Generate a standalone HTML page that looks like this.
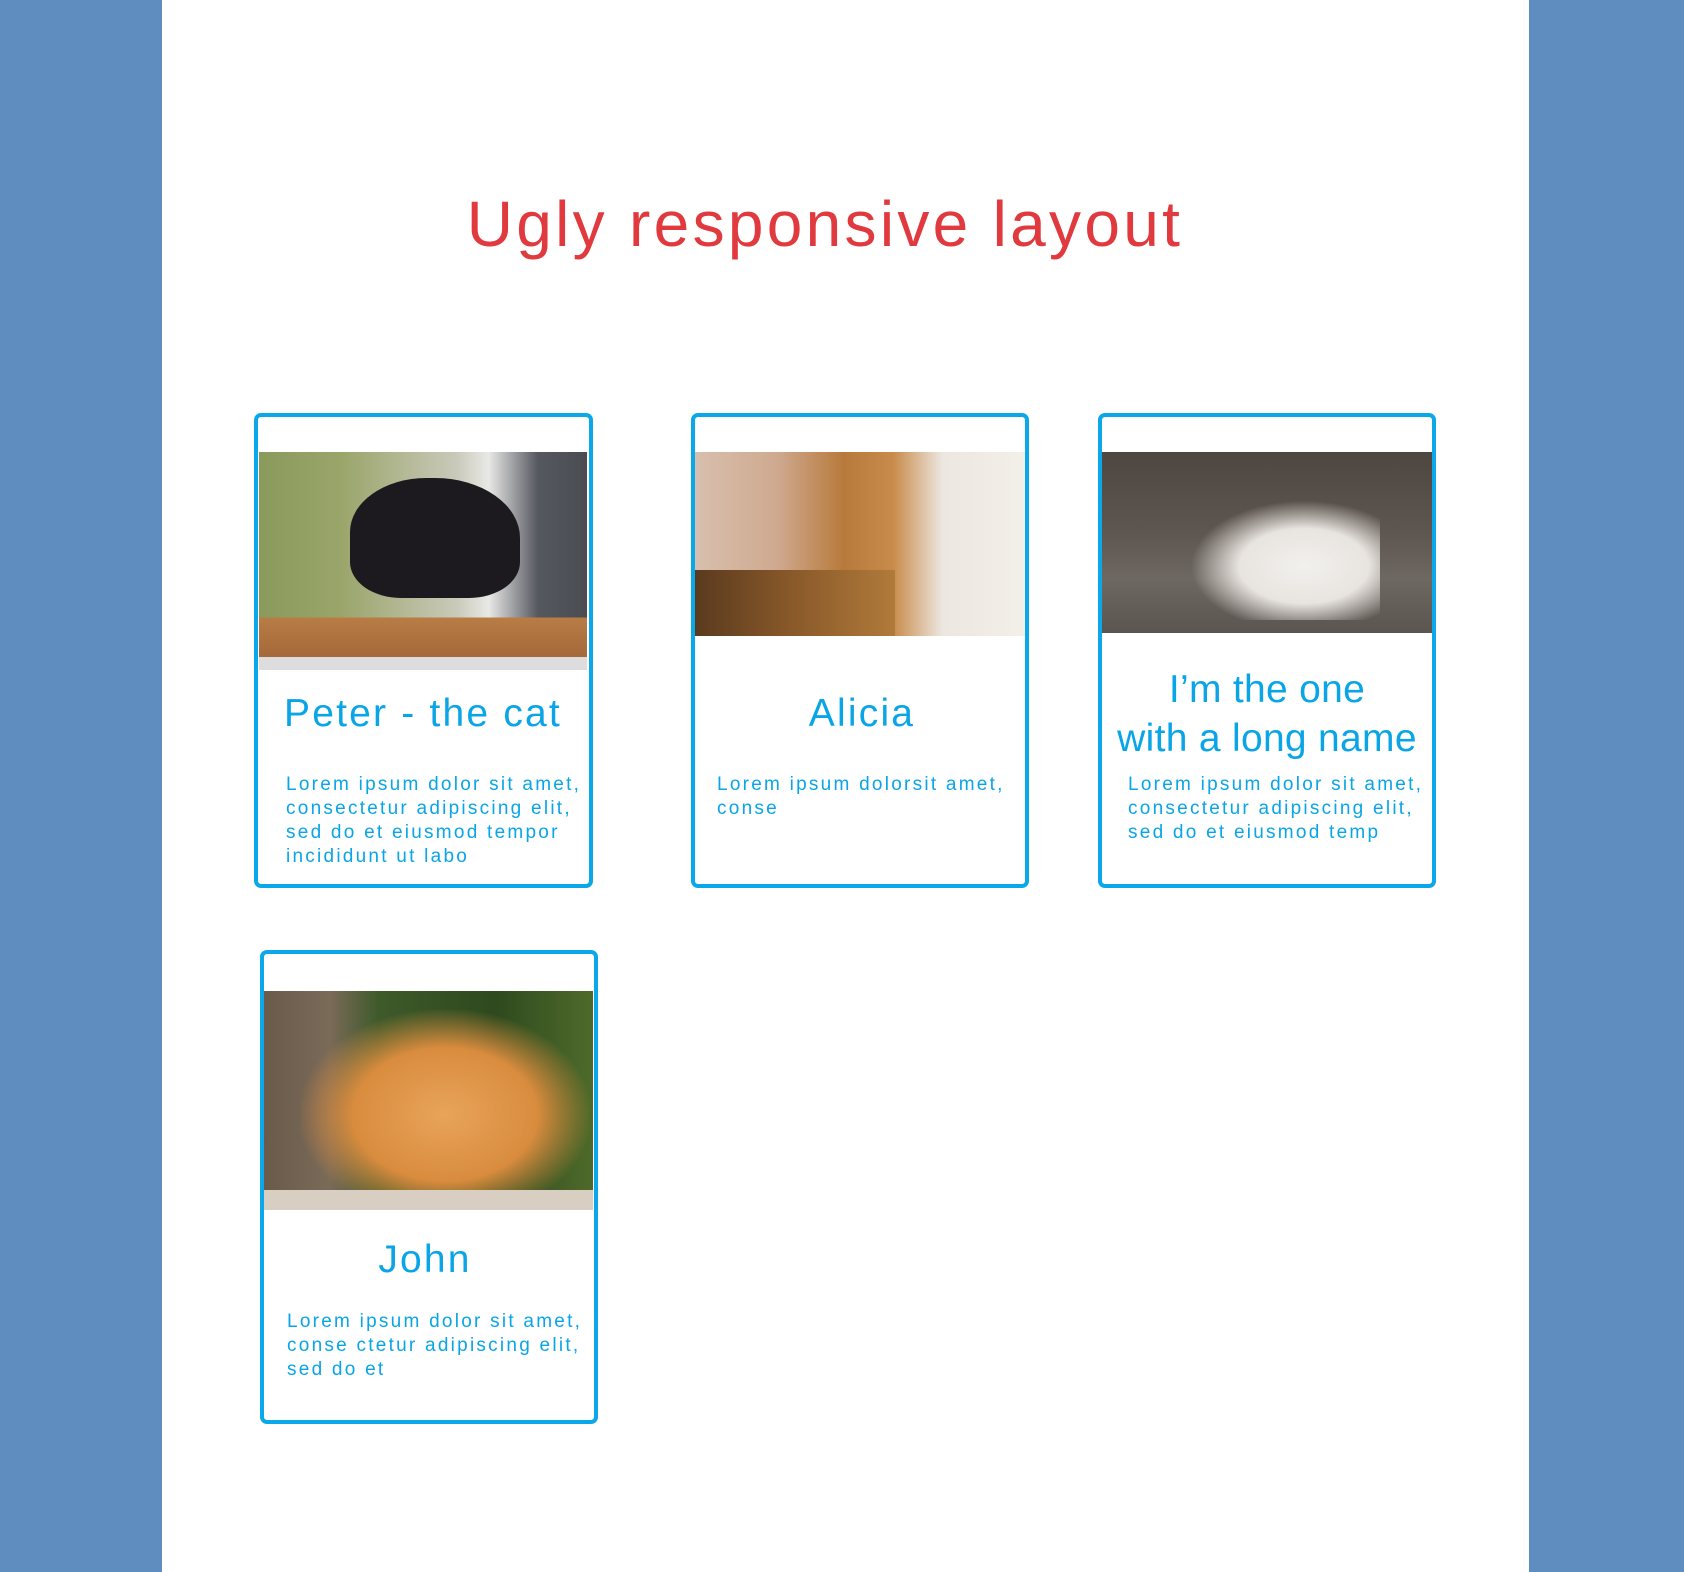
<!DOCTYPE html>
<html><head><meta charset="utf-8"><style>
*{margin:0;padding:0;box-sizing:border-box}
body{width:1684px;height:1572px;background:#5f8dbf;position:relative;overflow:hidden;font-family:"Liberation Sans",Arial,sans-serif}
.page{position:absolute;left:162px;top:0;width:1367px;height:1572px;background:#fff}
.t{position:absolute;white-space:nowrap}
.title{left:0;width:1650px;text-align:center;top:187px;font-size:64px;color:#e0393e;letter-spacing:3.3px}
.card{position:absolute;border:4px solid #0aa8e8;border-radius:7px;background:#fff}
.img{position:absolute}
.h{color:#0aa5e6;font-size:39px;line-height:49px}
.p{color:#0aa5e6;font-size:19px;line-height:24px;letter-spacing:2.25px}
</style></head><body>
<div class="page"></div>
<div class="t title">Ugly responsive layout</div>

<div class="card" style="left:254px;top:413px;width:339px;height:475px"></div>
<div class="img" style="left:259px;top:452px;width:328px;height:218px;background:linear-gradient(180deg,rgba(0,0,0,0) 0,rgba(0,0,0,0) 76%,#b87c45 76%,#a5693a 94%,#ddd 94%),linear-gradient(90deg,#8a9a5c 0,#9aa56a 25%,#c9c9b9 60%,#e8e8e6 70%,#565860 85%,#4a4c52 100%)"></div>
<div class="img" style="left:350px;top:478px;width:170px;height:120px;background:#1c1a1e;border-radius:45% 50% 30% 30%"></div>
<div class="t h" style="left:284px;top:689px;letter-spacing:2.2px">Peter - the cat</div>
<div class="t p" style="left:286px;top:773px">Lorem ipsum dolor sit amet,<br>consectetur adipiscing elit,<br>sed do et eiusmod tempor<br>incididunt ut labo</div>

<div class="card" style="left:691px;top:413px;width:338px;height:475px"></div>
<div class="img" style="left:695px;top:452px;width:330px;height:184px;background:linear-gradient(90deg,#d8bfae 0,#cfa98f 25%,#b87a3c 45%,#c88b4a 60%,#ece7e0 75%,#f3efe9 100%)"></div>
<div class="img" style="left:695px;top:570px;width:200px;height:66px;background:linear-gradient(90deg,#5a3a1e,#8a5a2a,#b07a3a)"></div>
<div class="t h" style="left:693px;width:338px;text-align:center;top:689px;letter-spacing:2.2px">Alicia</div>
<div class="t p" style="left:717px;top:773px">Lorem ipsum dolorsit amet,<br>conse</div>

<div class="card" style="left:1098px;top:413px;width:338px;height:475px"></div>
<div class="img" style="left:1102px;top:452px;width:330px;height:181px;background:linear-gradient(180deg,#4e4640 0,#5e5650 45%,#6e6862 70%,#5a5550 100%)"></div>
<div class="img" style="left:1190px;top:500px;width:190px;height:120px;background:radial-gradient(ellipse at 60% 55%,#f2f0ee 0,#e8e4df 40%,rgba(200,190,180,0) 70%)"></div>
<div class="t h" style="left:1098px;width:338px;text-align:center;top:665px;letter-spacing:0.3px">I’m the one<br>with a long name</div>
<div class="t p" style="left:1128px;top:773px">Lorem ipsum dolor sit amet,<br>consectetur adipiscing elit,<br>sed do et eiusmod temp</div>

<div class="card" style="left:260px;top:950px;width:338px;height:474px"></div>
<div class="img" style="left:264px;top:991px;width:329px;height:219px;background:linear-gradient(90deg,#6a5a4a 0,#7a6a58 20%,#3e5a2a 35%,#2e4a1e 70%,#4e6a2a 100%)"></div>
<div class="img" style="left:300px;top:1010px;width:290px;height:190px;background:radial-gradient(ellipse at 50% 55%,#e8a45a 0,#d98c3e 45%,rgba(217,140,62,0) 72%)"></div>
<div class="img" style="left:264px;top:1190px;width:329px;height:20px;background:#d8cfc2"></div>
<div class="t h" style="left:256px;width:338px;text-align:center;top:1235px;letter-spacing:2.2px">John</div>
<div class="t p" style="left:287px;top:1310px">Lorem ipsum dolor sit amet,<br>conse ctetur adipiscing elit,<br>sed do et</div>
</body></html>
